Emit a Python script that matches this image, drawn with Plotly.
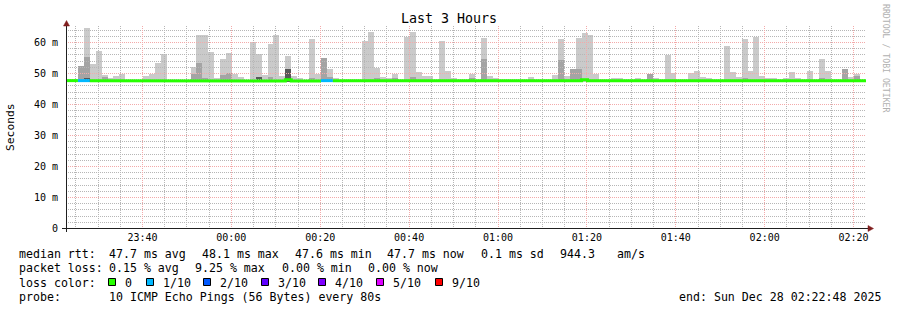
import math
import plotly.graph_objects as go
from datetime import datetime, timedelta

# ---------------- data ----------------
END_TIME = "2025-12-28 02:22:48"
STEP_SECONDS = 80
FIRST_BAR_TIME = "2025-12-27 23:22:49"

# smoke: outer (light) top, middle top, inner (dark) top, in ms  (None = no smoke above median)
smoke_light = [
    None, None, None, 64.6, 53.0, 57.2, 49.5, 48.6, 49.1, 50.0,
    None, None, None, 49.1, 49.8, 53.4, 56.2, None, None, None,
    None, 52.0, 62.4, 62.4, 56.9, 48.6, 54.6, 56.6, 49.8, 48.8,
    None, 60.1, 56.2, 49.5, 59.5, 62.4, 49.1, 55.6, 49.1, 48.5,
    None, 61.1, 50.0, None, 51.4, 48.6, None, None, None, None,
    60.5, 63.4, 51.8, 48.8, 48.6, 49.8, None, 61.8, 63.4, 50.4,
    49.1, 49.1, None, 60.5, 50.8, 48.6, None, None, 49.8, None,
    61.5, 49.1, 48.6, None, None, None, None, None, 48.8, None,
    None, None, 49.5, 61.1, 49.1, 51.4, 61.5, 63.0, 62.4, 49.8,
    None, None, 48.6, 48.6, None, None, 48.6, None, None, 48.6,
    None, 55.9, 50.1, None, None, 50.1, 50.8, 48.9, 48.6, None,
    None, 58.8, 50.4, 48.8, 61.1, 50.8, 61.7, 49.1, 48.5, 48.5,
    None, 48.6, 50.4, 48.6, None, 50.8, None, 54.6, 50.8, None,
    None, None, 48.8, 49.8, None,
]
smoke_mid = [
    None, None, 52.4, 55.3, None, None, 48.8, None, None, None,
    None, None, None, None, None, None, None, None, None, None,
    None, 50.0, 53.3, 48.6, None, None, 49.5, 50.1, None, None,
    None, None, None, None, 48.8, None, None, None, None, None,
    None, 48.6, None, 55.0, 48.9, None, None, None, None, None,
    None, None, 48.6, None, None, 48.6, None, None, 49.0, None,
    None, None, None, None, None, None, None, None, 48.6, None,
    54.6, None, None, None, None, None, None, None, None, None,
    None, None, None, 54.3, None, 51.4, 51.4, None, None, None,
    None, None, None, None, None, None, None, None, 49.8, None,
    None, None, None, None, None, None, None, None, None, None,
    None, None, None, None, 48.6, None, None, None, None, None,
    None, None, None, None, None, None, None, 48.6, None, None,
    None, 51.4, None, 49.2, None,
]
smoke_dark = [
    None, None, None, 48.6, None, None, None, None, None, None,
    None, None, None, None, None, None, None, None, None, None,
    None, None, None, None, None, None, None, None, None, None,
    None, None, 48.8, None, None, None, None, 51.4, None, None,
    None, None, None, None, None, None, None, None, None, None,
    None, None, None, None, None, None, None, None, None, None,
    None, None, None, None, None, None, None, None, None, None,
    None, None, None, None, None, None, None, None, None, None,
    None, None, None, None, None, None, None, None, None, None,
    None, None, None, None, None, None, None, None, None, None,
    None, None, None, None, None, None, None, None, None, None,
    None, None, None, None, None, None, None, None, None, None,
    None, None, None, None, None, None, None, None, None, None,
    None, None, None, None, None,
]
median_rtt = [
    47.7, 47.7, 47.7, 47.7, 47.7, 47.7, 47.7, 47.7, 47.7, 47.7,
    47.7, 47.7, 47.7, 47.6, 47.7, 47.7, 47.7, 47.7, 47.7, 47.7,
    47.7, 47.7, 47.7, 47.7, 47.7, 47.7, 47.7, 47.7, 47.7, 47.7,
    47.7, 47.7, 47.7, 47.7, 47.7, 47.7, 47.6, 48.0, 47.6, 47.7,
    47.6, 47.7, 47.6, 47.7, 47.7, 47.7, 47.6, 47.7, 47.6, 47.7,
    47.7, 47.7, 47.6, 47.6, 47.6, 47.7, 47.6, 47.7, 47.7, 47.7,
    47.7, 47.7, 47.7, 47.7, 47.7, 47.6, 47.7, 47.7, 47.7, 47.7,
    47.7, 47.7, 47.7, 47.7, 47.5, 47.7, 47.7, 47.7, 47.7, 47.7,
    47.7, 47.7, 47.6, 47.7, 47.6, 47.7, 47.7, 48.0, 47.7, 47.7,
    47.6, 47.7, 47.7, 47.7, 47.7, 47.7, 47.7, 47.7, 47.7, 47.7,
    47.7, 47.7, 47.7, 47.7, 47.7, 47.7, 47.7, 47.7, 47.7, 47.7,
    47.7, 47.6, 47.7, 47.6, 47.7, 47.7, 47.7, 47.7, 47.7, 47.7,
    47.7, 47.7, 47.7, 47.7, 47.6, 47.7, 47.7, 47.7, 47.7, 47.7,
    47.7, 47.7, 47.7, 47.7, 47.7,
]
# lost pings out of 10 per step
loss_count = [
    0, 0, 1, 1, 0, 0, 0, 0, 0, 0,
    0, 0, 0, 0, 0, 0, 0, 0, 0, 0,
    0, 0, 0, 0, 0, 0, 0, 0, 0, 0,
    0, 0, 0, 0, 0, 0, 0, 0, 0, 0,
    0, 0, 0, 1, 1, 0, 0, 0, 0, 0,
    0, 0, 0, 0, 0, 0, 0, 0, 0, 0,
    0, 0, 0, 0, 0, 0, 0, 0, 0, 0,
    0, 0, 0, 0, 0, 0, 0, 0, 0, 0,
    0, 0, 0, 0, 0, 0, 0, 0, 0, 0,
    0, 0, 0, 0, 0, 0, 0, 0, 0, 0,
    0, 0, 0, 0, 0, 0, 0, 0, 0, 0,
    0, 0, 0, 0, 0, 0, 0, 0, 0, 0,
    0, 0, 0, 0, 0, 0, 0, 0, 0, 0,
    0, 0, 0, 0, 0,
]
SMOKE_FLOOR = 47.4

loss_labels = ["0", "1/10", "2/10", "3/10", "4/10", "5/10", "9/10"]
loss_levels = [0, 1, 2, 3, 4, 5, 9]
loss_colors = ["#26ff00", "#00b8ff", "#0059ff", "#5e00ff", "#7e00ff", "#dd00ff", "#ff0000"]

y_tick_vals = [0, 10, 20, 30, 40, 50, 60]
y_tick_text = ["0", "10 m", "20 m", "30 m", "40 m", "50 m", "60 m"]
y_minor_vals = [2, 4, 6, 8, 12, 14, 16, 18, 22, 24, 26, 28, 32, 34, 36, 38,
                42, 44, 46, 48, 52, 54, 56, 58, 62, 64]
x_tick_vals = ["2025-12-27 23:40", "2025-12-28 00:00", "2025-12-28 00:20",
               "2025-12-28 00:40", "2025-12-28 01:00", "2025-12-28 01:20",
               "2025-12-28 01:40", "2025-12-28 02:00", "2025-12-28 02:20"]
x_tick_text = ["23:40", "00:00", "00:20", "00:40", "01:00", "01:20", "01:40", "02:00", "02:20"]

title_text = "Last 3 Hours"
legend_rows = [
    [(16.5, "median rtt:"), (107.3, "47.7 ms avg"), (200, "48.1 ms max"), (292.7, "47.6 ms min"),
     (385, "47.7 ms now"), (479.3, "0.1 ms sd"), (558.3, "944.3"), (615, "am/s")],
    [(16.5, "packet loss:"), (107.3, "0.15 % avg"), (193.3, "9.25 % max"), (280, "0.00 % min"),
     (366, "0.00 % now")],
    [(16.5, "loss color:")],
    [(16.5, "probe:"), (107.3, "10 ICMP Echo Pings (56 Bytes) every 80s")],
]
end_text = "end: Sun Dec 28 02:22:48 2025"

# ---------------- geometry (pixels) ----------------
W, H = 897, 310
PL, PR, PT, PB = 66, 866, 26, 229   # plot-area box
ZERO_Y = 228.5                      # pixel centre of value 0 (x axis row)
SCALE = 3.1                         # px per ms
Y0 = -(PB - ZERO_Y) / SCALE
Y1 = Y0 + (PB - PT) / SCALE


def px(x):
    return (x - PL) / (PR - PL)


def py(y):
    return (PB - y) / (PB - PT)


end_dt = datetime.strptime(END_TIME, "%Y-%m-%d %H:%M:%S")
start_dt = end_dt - timedelta(hours=3)
SPAN = (end_dt - start_dt).total_seconds()
first_bar = datetime.strptime(FIRST_BAR_TIME, "%Y-%m-%d %H:%M:%S")
n = len(median_rtt)
bar_start = [first_bar + timedelta(seconds=STEP_SECONDS * k) for k in range(n)]
bar_end = [t + timedelta(seconds=STEP_SECONDS) for t in bar_start]
bar_mid = [t + timedelta(seconds=STEP_SECONDS / 2) for t in bar_start]
bar_w_ms = STEP_SECONDS * 1000


def snap_t(t):
    x = PL + (t - start_dt).total_seconds() / SPAN * (PR - PL)
    col = math.floor(x)
    return start_dt + timedelta(seconds=(col + 0.5 - PL) / (PR - PL) * SPAN)


def snap_v(v):
    row = math.floor(ZERO_Y - SCALE * v)
    return (ZERO_Y - row - 0.5) / SCALE


FONT = "DejaVu Sans Mono"
fig = go.Figure()


def smoke(vals, color):
    xs, ys, bs = [], [], []
    for k, v in enumerate(vals):
        if v is not None:
            xs.append(bar_mid[k])
            ys.append(v - SMOKE_FLOOR)
            bs.append(SMOKE_FLOOR)
    fig.add_trace(go.Bar(x=xs, y=ys, base=bs, width=[bar_w_ms] * len(xs),
                         marker=dict(color=color, line=dict(width=0)),
                         hoverinfo="skip", showlegend=False))


smoke(smoke_light, "#cacaca")
smoke(smoke_mid, "#a4a4a4")
smoke(smoke_dark, "#585858")

major_dt = [datetime.strptime(s, "%Y-%m-%d %H:%M") for s in x_tick_vals]
minor_dt = []
t = datetime(2025, 12, 27, 23, 25)
while t < end_dt:
    if t not in major_dt:
        minor_dt.append(t)
    t += timedelta(minutes=5)


# grid drawn over the smoke (rrdtool style), snapped to pixel centres
def hlines(vals, color):
    xs, ys = [], []
    for v in vals:
        sv = snap_v(v)
        xs += [start_dt, end_dt, None]
        ys += [sv, sv, None]
    fig.add_trace(go.Scatter(x=xs, y=ys, mode="lines", hoverinfo="skip", showlegend=False,
                             line=dict(color=color, width=1, dash="1px,1px")))


def vlines(times, color):
    xs, ys = [], []
    for tt in times:
        st = snap_t(tt)
        xs += [st, st, None]
        ys += [Y0, Y1, None]
    fig.add_trace(go.Scatter(x=xs, y=ys, mode="lines", hoverinfo="skip", showlegend=False,
                             line=dict(color=color, width=1, dash="1px,1px")))


MINOR_GRID = "rgb(182,182,182)"
MAJOR_GRID = "rgb(243,170,170)"
hlines(y_minor_vals, MINOR_GRID)
vlines(minor_dt, MINOR_GRID)
hlines(y_tick_vals[1:], MAJOR_GRID)
vlines(major_dt, MAJOR_GRID)

# median line coloured by loss
for lvl, col in zip(loss_levels, loss_colors):
    xs, ys = [], []
    prev = False
    for k in range(n):
        if loss_count[k] == lvl:
            xs += [bar_start[k], bar_end[k]]
            ys += [median_rtt[k], median_rtt[k]]
            prev = True
        elif prev:
            xs.append(None)
            ys.append(None)
            prev = False
    if xs:
        fig.add_trace(go.Scatter(x=xs, y=ys, mode="lines", hoverinfo="skip", showlegend=False,
                                 line=dict(color=col, width=3)))

annotations = []
shapes = []

# title, y label, watermark
annotations.append(dict(text=title_text, x=px(448.5), y=py(19), xref="paper", yref="paper",
                        showarrow=False, xanchor="center", yanchor="middle",
                        font=dict(family=FONT, size=13.3, color="#000")))
annotations.append(dict(text="Seconds", x=px(11), y=py(127), xref="paper", yref="paper",
                        showarrow=False, textangle=-90, xanchor="center", yanchor="middle",
                        font=dict(family=FONT, size=11.3, color="#000")))
annotations.append(dict(text="RRDTOOL / TOBI OETIKER", x=px(886), y=py(59), xref="paper",
                        yref="paper", showarrow=False, textangle=90, xanchor="center",
                        yanchor="middle", font=dict(family=FONT, size=8.2, color="#b0b0b0")))

row_y = [254.3, 268.3, 282.5, 296.6]
for ry, row in zip(row_y, legend_rows):
    for x0, txt in row:
        annotations.append(dict(text=txt, x=px(x0), y=py(ry), xref="paper", yref="paper",
                                showarrow=False, xanchor="left", yanchor="middle",
                                font=dict(family=FONT, size=11.6, color="#000")))
annotations.append(dict(text=end_text, x=px(883), y=py(row_y[3]), xref="paper", yref="paper",
                        showarrow=False, xanchor="right", yanchor="middle",
                        font=dict(family=FONT, size=11.6, color="#000")))

# loss colour swatches
sq_x = [108.5, 146.5, 203.5, 261.5, 318.5, 376.5, 435.5]
for sx, lab, col in zip(sq_x, loss_labels, loss_colors):
    shapes.append(dict(type="rect", xref="paper", yref="paper",
                       x0=px(sx), x1=px(sx + 7), y0=py(278.5), y1=py(285.5),
                       fillcolor=col, line=dict(color="#000", width=1)))
    annotations.append(dict(text=lab, x=px(sx + 14.5), y=py(row_y[2]), xref="paper", yref="paper",
                            showarrow=False, xanchor="left", yanchor="middle",
                            font=dict(family=FONT, size=11.6, color="#000")))

# axes lines and arrows
shapes.append(dict(type="line", xref="paper", yref="paper", x0=px(62), x1=px(868),
                   y0=py(ZERO_Y), y1=py(ZERO_Y), line=dict(color="#1f1f1f", width=1)))
shapes.append(dict(type="line", xref="paper", yref="paper", x0=px(66.5), x1=px(66.5),
                   y0=py(232), y1=py(24), line=dict(color="#1f1f1f", width=1)))
shapes.append(dict(type="path", xref="paper", yref="paper", fillcolor="#801f1f",
                   line=dict(color="#801f1f", width=0.5),
                   path=f"M {px(63.5)} {py(26)} L {px(69.5)} {py(26)} L {px(66.5)} {py(20.5)} Z"))
shapes.append(dict(type="path", xref="paper", yref="paper", fillcolor="#801f1f",
                   line=dict(color="#801f1f", width=0.5),
                   path=f"M {px(868)} {py(225.5)} L {px(868)} {py(231.5)} L {px(873.5)} {py(228.5)} Z"))

fig.update_layout(
    width=W, height=H,
    margin=dict(l=PL, r=W - PR, t=PT, b=H - PB, pad=0),
    paper_bgcolor="white", plot_bgcolor="white",
    barmode="overlay", bargap=0, showlegend=False,
    annotations=annotations, shapes=shapes,
    xaxis=dict(type="date", range=[start_dt, end_dt], zeroline=False, showgrid=False,
               showline=False, tickvals=major_dt, ticktext=x_tick_text, ticks="",
               ticklabelstandoff=1, fixedrange=True,
               tickfont=dict(family=FONT, size=10, color="#000")),
    yaxis=dict(range=[Y0, Y1], zeroline=False, showline=False, showgrid=False,
               tickvals=y_tick_vals, ticktext=y_tick_text, ticks="",
               ticklabelstandoff=7, fixedrange=True,
               tickfont=dict(family=FONT, size=10, color="#000")),
)

fig.write_html("out.html")
